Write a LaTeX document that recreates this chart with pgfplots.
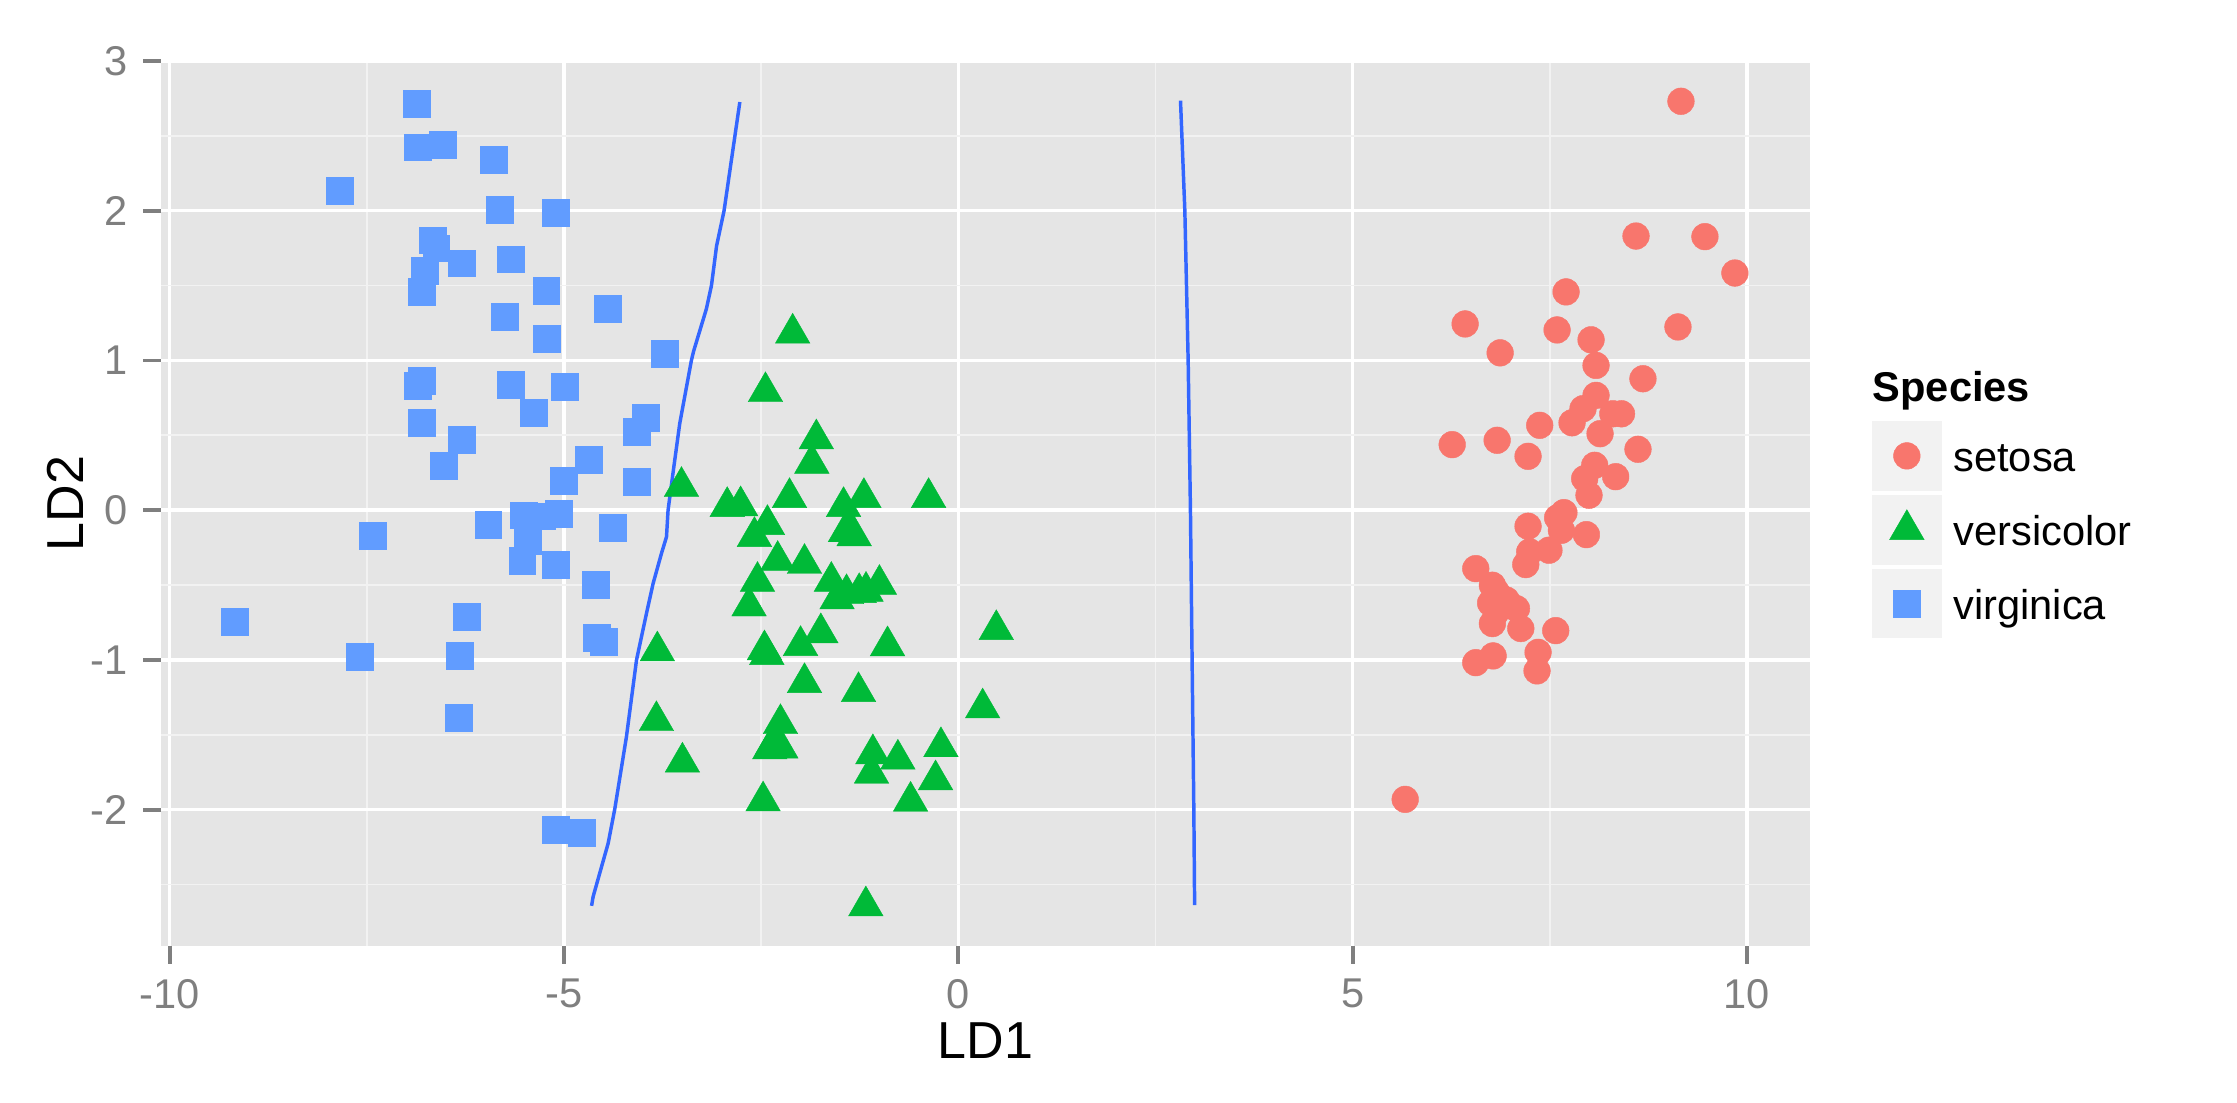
\documentclass[border=0pt]{standalone}
\usepackage{fontspec}
\setmainfont{Liberation Sans}
\usepackage{pgfplots}
\usepackage{pgfplotstable}
\pgfplotsset{compat=1.18}
\definecolor{grey90}{HTML}{E5E5E5}
\definecolor{grey95}{HTML}{F2F2F2}
\definecolor{grey50}{HTML}{7F7F7F}
\definecolor{cSet}{HTML}{F8766D}
\definecolor{cVer}{HTML}{00BA38}
\definecolor{cVir}{HTML}{619CFF}
\definecolor{cLine}{HTML}{3366FF}

\pgfplotstableread{
x y
9.164 2.731
8.594 1.831
9.468 1.827
9.848 1.584
7.707 1.458
6.427 1.244
7.593 1.204
9.126 1.224
6.871 1.051
8.024 1.138
8.087 0.967
8.682 0.878
8.087 0.767
7.922 0.678
7.783 0.584
8.300 0.644
8.410 0.644
8.138 0.511
7.373 0.567
6.263 0.438
6.833 0.467
7.225 0.360
8.619 0.407
8.070 0.300
8.336 0.224
7.943 0.211
7.998 0.100
7.680 -0.016
7.225 -0.107
7.648 -0.134
7.490 -0.267
7.965 -0.163
7.246 -0.278
7.196 -0.363
6.562 -0.390
6.773 -0.501
6.824 -0.546
6.824 -0.679
7.078 -0.657
6.773 -0.757
7.133 -0.790
7.576 -0.804
6.562 -1.018
6.782 -0.973
7.352 -0.949
7.339 -1.073
5.667 -1.931
6.950 -0.600
6.750 -0.620
7.600 -0.050
}\setosa

\pgfplotstableread{
x y
-2.100 1.182
-2.445 0.791
-1.800 0.476
-1.857 0.313
-3.510 0.158
-2.930 0.024
-2.760 0.029
-2.140 0.084
-1.455 0.024
-1.197 0.084
-0.376 0.084
-2.420 -0.096
-2.585 -0.176
-1.430 -0.144
-1.320 -0.171
-2.290 -0.336
-1.950 -0.356
-1.610 -0.476
-1.417 -0.558
-1.256 -0.551
-1.170 -0.542
-1.000 -0.496
-2.546 -0.476
-2.653 -0.640
-1.537 -0.593
0.482 -0.798
-3.816 -0.940
-2.458 -0.933
-2.428 -0.964
-2.000 -0.904
-1.743 -0.819
-0.897 -0.906
-1.950 -1.152
-1.265 -1.212
0.309 -1.321
-3.828 -1.406
-2.255 -1.426
-2.390 -1.594
-2.250 -1.589
-3.498 -1.683
-2.475 -1.942
-1.083 -1.627
-1.100 -1.757
-0.766 -1.663
-0.220 -1.580
-0.288 -1.801
-0.605 -1.944
-1.172 -2.643
-1.380 -0.130
-2.350 -1.560
}\versicolor

\pgfplotstableread{
x y
-6.864 2.712
-6.850 2.424
-6.534 2.441
-5.890 2.341
-7.847 2.135
-5.810 2.009
-5.110 1.989
-6.660 1.803
-6.620 1.750
-6.300 1.650
-5.670 1.676
-6.770 1.600
-6.800 1.461
-5.225 1.468
-4.440 1.348
-5.750 1.295
-5.220 1.144
-3.720 1.044
-6.805 0.867
-6.860 0.832
-5.680 0.836
-4.990 0.823
-5.380 0.650
-6.805 0.583
-3.960 0.616
-4.080 0.525
-6.300 0.468
-6.530 0.300
-4.690 0.335
-5.000 0.195
-4.080 0.191
-5.510 -0.033
-5.280 -0.040
-5.070 -0.022
-5.460 -0.203
-5.960 -0.094
-4.380 -0.118
-7.420 -0.169
-5.530 -0.339
-5.105 -0.363
-4.595 -0.497
-9.180 -0.746
-6.230 -0.710
-4.590 -0.853
-4.500 -0.880
-7.590 -0.978
-6.320 -0.969
-6.330 -1.383
-5.110 -2.131
-4.770 -2.154
}\virginica

\pgfplotstableread{
x y
-2.770 2.726
-2.970 2.000
-3.065 1.765
-3.130 1.500
-3.195 1.343
-3.356 1.062
-3.384 1.001
-3.532 0.579
-3.617 0.250
-3.680 0.000
-3.700 -0.178
-3.764 -0.289
-3.870 -0.490
-3.950 -0.680
-4.080 -1.000
-4.208 -1.513
-4.356 -1.996
-4.440 -2.225
-4.630 -2.580
-4.650 -2.642
}\lineA

\pgfplotstableread{
x y
2.818 2.735
2.873 2.000
2.915 1.000
2.944 0.000
2.965 -1.000
2.987 -2.000
2.997 -2.637
}\lineB

\begin{document}
\begin{tikzpicture}
\useasboundingbox (-37.15pt,-36.23pt) rectangle (479.04pt,218.28pt);
\begin{axis}[
  at={(0pt,0pt)}, anchor=south west,
  scale only axis, width=380.5pt, height=204.2pt,
  xmin=-10.11, xmax=10.80, ymin=-2.91, ymax=3.0,
  axis background/.style={fill=grey90},
  axis line style={draw=none},
  tick pos=left,
  tick align=outside,
  major tick length=4.15pt,
  tick style={grey50, line width=0.9pt},
  xtick={-10,-5,0,5,10}, ytick={-2,-1,0,1,2,3},
  minor xtick={-7.5,-2.5,2.5,7.5},
  minor ytick={-2.5,-1.5,-0.5,0.5,1.5,2.5},
  minor tick length=0pt,
  grid=both,
  major grid style={white, line width=0.8pt},
  minor grid style={grey95, line width=0.4pt},
  ticklabel style={font=\fontsize{9.6}{11}\selectfont, text=grey50},
  /pgf/number format/assume math mode=true,
  xlabel={LD1}, ylabel={LD2},
  label style={font=\fontsize{12}{14}\selectfont},
  xlabel style={at={(axis description cs:0.5,-0.1277)}, anchor=base},
  ylabel style={at={(axis description cs:-0.0467,0.5)}, anchor=base, rotate=0},
  legend style={at={(1.0376,0.5932)}, anchor=north west, draw=none, fill=none,
    inner sep=0pt, outer sep=0pt, row sep=0.92pt,
    font=\fontsize{9.6}{11}\selectfont,
    cells={anchor=base west},
    nodes={inner xsep=2.7pt, inner ysep=0pt}},
]
\addplot[only marks, mark=*, mark size=3.08pt, mark options={draw=cSet, fill=cSet, line width=0.1pt},
  legend image code/.code={\fill[grey95] (0pt,-4.19pt) rectangle (15.7pt,11.51pt);
    \draw[cSet, fill=cSet, line width=0.1pt, mark=*, mark size=3.08pt, only marks] plot coordinates {(7.85pt,3.66pt)};}]
  table[x=x, y=y] {\setosa};
\addlegendentry{setosa}
\addplot[only marks, mark=triangle*, mark size=4.6pt, mark options={draw=cVer, fill=cVer, line width=0.1pt},
  legend image code/.code={\fill[grey95] (0pt,-4.19pt) rectangle (15.7pt,11.51pt);
    \draw[cVer, fill=cVer, line width=0.1pt, mark=triangle*, mark size=4.6pt, only marks] plot coordinates {(7.85pt,3.66pt)};}]
  table[x=x, y=y] {\versicolor};
\addlegendentry{versicolor}
\addplot[only marks, mark=square*, mark size=3.1pt, mark options={draw=cVir, fill=cVir, line width=0.1pt},
  legend image code/.code={\fill[grey95] (0pt,-4.19pt) rectangle (15.7pt,11.51pt);
    \draw[cVir, fill=cVir, line width=0.1pt, mark=square*, mark size=3.1pt, only marks] plot coordinates {(7.85pt,3.66pt)};}]
  table[x=x, y=y] {\virginica};
\addlegendentry{virginica}
\addplot[cLine, line width=0.8pt, no markers, forget plot] table[x=x, y=y] {\lineA};
\addplot[cLine, line width=0.8pt, no markers, forget plot] table[x=x, y=y] {\lineB};
\end{axis}
\node[anchor=base west, inner sep=0pt, font=\bfseries\fontsize{9.6}{11}\selectfont] at (394.8pt,125.6pt) {Species};
\end{tikzpicture}
\end{document}
